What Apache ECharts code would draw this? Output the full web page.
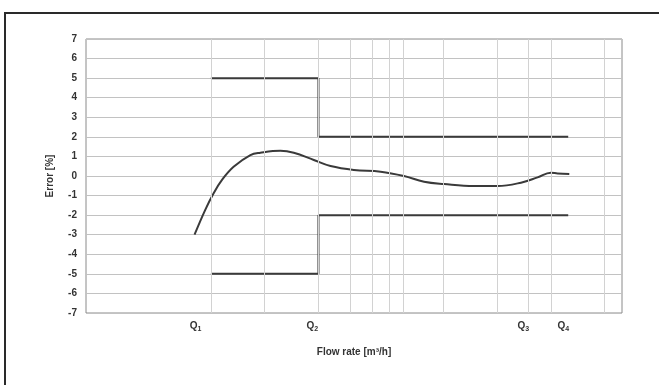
<!DOCTYPE html>
<html>
<head>
<meta charset="utf-8">
<script src="https://cdn.jsdelivr.net/npm/echarts@6/dist/echarts.min.js"></script>
<style>
  html, body { margin: 0; padding: 0; background: #fff; }
  #chart { width: 659px; height: 385px; }
</style>
</head>
<body>
<div id="chart"></div>
<script>
// flow rate (log scale) and error values
const errorCurve = [
  [0.405, -3.0], [0.465, -1.73], [0.518, -0.88], [0.577, -0.2], [0.67, 0.47],
  [0.832, 1.07], [0.946, 1.19], [1.225, 1.29], [1.455, 1.19], [1.883, 0.82],
  [2.336, 0.51], [3.157, 0.31], [4.454, 0.22], [6.02, 0.0], [7.8, -0.29],
  [10.1, -0.41], [14.86, -0.51], [20.1, -0.51], [27.2, -0.34], [33.7, -0.07],
  [40.0, 0.17], [43.6, 0.13], [50.7, 0.1]
];
const upperLimit = [[0.5, 5], [2, 5], [2, 2], [50, 2]];
const lowerLimit = [[0.5, -5], [2, -5], [2, -2], [50, -2]];

// axis labels and the vertical grid lines that show in the scan
const qValues = [0.41, 1.85, 28, 47];
const qNames = ["1", "2", "3", "4"];
const xGridValues = [0.5, 1, 2, 3, 4, 5, 6, 10, 20, 30, 40, 80];

const chart = echarts.init(document.getElementById("chart"));

const lineStyle = { color: "#3a3a3a", width: 2 };
const fontFamily = "Liberation Sans, Arial, sans-serif";

chart.setOption({
  animation: false,
  backgroundColor: "#fff",
  textStyle: { fontFamily: fontFamily },
  graphic: [{
    type: "rect",
    shape: { x: 5, y: 13, width: 700, height: 400 },
    style: { fill: "none", stroke: "#2a2a2a", lineWidth: 2 }
  }],
  grid: { left: 86, right: 37, top: 39, bottom: 72, show: true, borderColor: "#8a8a8a", borderWidth: 1 },
  xAxis: {
    type: "log",
    logBase: 10,
    min: 0.1,
    max: 100,
    name: "Flow rate [m³/h]",
    nameLocation: "middle",
    nameGap: 34,
    nameTextStyle: { fontSize: 10, fontWeight: "bold", color: "#333" },
    axisLine: { show: false },
    axisTick: { show: false },
    splitLine: { show: false },
    axisLabel: {
      customValues: qValues,
      margin: 8,
      formatter: function (v) {
        const i = qValues.findIndex(q => Math.abs(q - v) / q < 1e-4);
        return i < 0 ? "" : "{q|Q}{s|" + qNames[i] + "}";
      },
      rich: {
        q: { fontSize: 10, fontWeight: "bold", color: "#333", lineHeight: 12, verticalAlign: "top" },
        s: { fontSize: 7, fontWeight: "bold", color: "#333", lineHeight: 9, padding: [5, 0, 0, 0], verticalAlign: "bottom" }
      }
    }
  },
  yAxis: {
    type: "value",
    min: -7,
    max: 7,
    interval: 1,
    name: "Error [%]",
    nameLocation: "middle",
    nameGap: 31,
    nameTextStyle: { fontSize: 10, fontWeight: "bold", color: "#333" },
    axisLine: { show: false },
    axisTick: { show: false },
    axisLabel: { fontSize: 10, fontWeight: "bold", color: "#333", margin: 9 },
    splitLine: { lineStyle: { color: "#c2c2c2", width: 1 } }
  },
  series: [
    {
      type: "line",
      data: [],
      silent: true,
      markLine: {
        silent: true,
        symbol: "none",
        label: { show: false },
        lineStyle: { color: "#d2d2d2", width: 1, type: "solid" },
        data: xGridValues.map(v => ({ xAxis: v }))
      }
    },
    { type: "line", data: upperLimit, showSymbol: false, lineStyle: lineStyle },
    { type: "line", data: lowerLimit, showSymbol: false, lineStyle: lineStyle },
    { type: "line", data: errorCurve, showSymbol: false, smooth: 0.4, lineStyle: lineStyle }
  ]
});
</script>
</body>
</html>
